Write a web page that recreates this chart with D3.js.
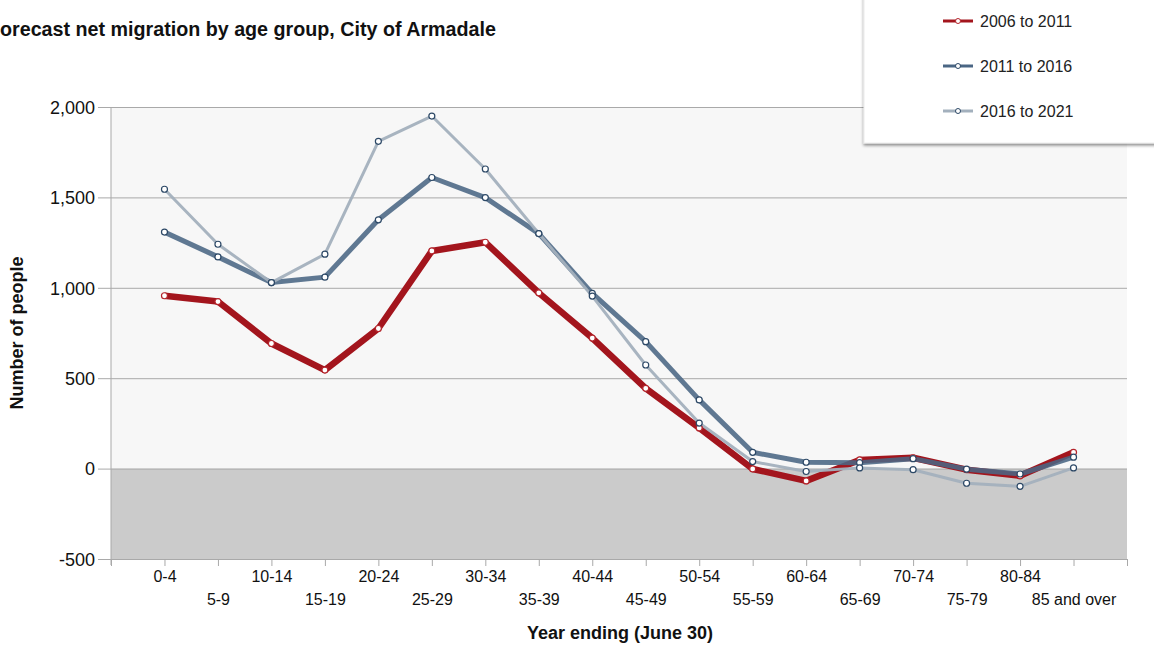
<!doctype html>
<html lang="en">

<head>
    <meta charset="utf-8">
    <title>Forecast net migration by age group</title>
    <script src="https://cdn.jsdelivr.net/npm/d3@7"></script>
    <style>
        body {
            margin: 0;
            background: #ffffff;
            font-family: "Liberation Sans", Arial, sans-serif;
        }

        svg {
            display: block;
        }
    </style>
</head>

<body>
    <svg></svg>
    <script>
        var width = 1154;
        var height = 648;

        var ageGroups = ['0-4', '5-9', '10-14', '15-19', '20-24', '25-29', '30-34', '35-39', '40-44',
            '45-49', '50-54', '55-59', '60-64', '65-69', '70-74', '75-79', '80-84', '85 and over'];
        var s2006 = [956, 924, 692, 545, 775, 1204, 1252, 972, 722, 444, 225, -2, -68, 48, 60, -6, -40, 90];
        var s2011 = [1308, 1171, 1029, 1059, 1376, 1610, 1499, 1300, 969, 702, 380, 90, 35, 33, 55, -3, -30, 63];
        var s2016 = [1545, 1241, 1029, 1186, 1810, 1950, 1657, 1300, 954, 573, 252, 39, -16, 4, -6, -81, -98, 4];
        var seriesNames = ['2006 to 2011', '2011 to 2016', '2016 to 2021'];
        var yTicks = [-500, 0, 500, 1000, 1500, 2000];

        var series = [
            { name: seriesNames[0], values: s2006, color: '#a3151d', width: 6.5, dot: '#b4242b', opacity: 1 },
            { name: seriesNames[1], values: s2011, color: '#4a6684', width: 5, dot: '#2c4866', opacity: 0.88 },
            { name: seriesNames[2], values: s2016, color: '#a3b0bd', width: 3, dot: '#2c4866', opacity: 0.95 }
        ];

        var pLeft = 111, pRight = 1127, pTop = 107, pBottom = 559;

        // slots include an empty one on each side of the categories
        var slots = ['_s'].concat(ageGroups).concat(['_e']);
        var xScale = d3.scalePoint().domain(slots).range([pLeft, pRight]);
        var yScale = d3.scaleLinear().domain([-500, 2000]).range([pBottom, pTop]);

        var svg = d3.select('svg').attr('width', width).attr('height', height);

        // backgrounds
        svg.append('rect')
            .attr('x', pLeft).attr('y', pTop)
            .attr('width', pRight - pLeft).attr('height', yScale(0) - pTop)
            .attr('fill', '#f7f7f7');
        svg.append('rect')
            .attr('x', pLeft).attr('y', yScale(0))
            .attr('width', pRight - pLeft).attr('height', pBottom - yScale(0))
            .attr('fill', '#cbcbcb');

        // y grid + axis
        var fmt = d3.format(',');
        var yAxis = d3.axisLeft(yScale).tickValues(yTicks).tickSize(pRight - pLeft + 13)
            .tickFormat(function (d) { return fmt(d).replace('\u2212', '-'); });
        var gy = svg.append('g').attr('transform', 'translate(' + pRight + ',0)').call(yAxis);
        gy.select('.domain').remove();
        gy.selectAll('line').attr('stroke', '#a9a9a9').attr('stroke-width', 1);
        gy.selectAll('text')
            .attr('x', -(pRight - pLeft) - 16)
            .attr('dy', '0.35em')
            .attr('fill', '#111')
            .style('font-size', '18px')
            .style('font-family', '"Liberation Sans", Arial, sans-serif');

        svg.append('line')
            .attr('x1', pLeft).attr('x2', pLeft)
            .attr('y1', pTop).attr('y2', pBottom + 6)
            .attr('stroke', '#a9a9a9');

        // x axis
        var xAxis = d3.axisBottom(xScale).tickSize(7).tickFormat(function (d) {
            return d.charAt(0) === '_' ? '' : d;
        });
        var gx = svg.append('g').attr('transform', 'translate(0,' + pBottom + ')').call(xAxis);
        gx.select('.domain').attr('d', 'M' + (pLeft - 13) + ',0.5H' + pRight).attr('stroke', '#a9a9a9');
        gx.selectAll('line').attr('stroke', '#a9a9a9');
        gx.selectAll('text')
            .attr('y', function (d) {
                return ageGroups.indexOf(d) % 2 === 0 ? 12 : 35;
            })
            .attr('fill', '#111')
            .style('font-size', '16px')
            .style('font-family', '"Liberation Sans", Arial, sans-serif');

        // lines
        var line = d3.line()
            .x(function (d, i) { return xScale(ageGroups[i]); })
            .y(function (d) { return yScale(d); });

        series.forEach(function (s) {
            svg.append('path')
                .datum(s.values)
                .attr('d', line)
                .attr('fill', 'none')
                .attr('stroke', s.color)
                .attr('stroke-width', s.width)
                .attr('stroke-linejoin', 'round')
                .attr('stroke-opacity', s.opacity);
        });
        series.forEach(function (s) {
            svg.append('g').selectAll('circle')
                .data(s.values)
                .enter()
                .append('circle')
                .attr('cx', function (d, i) { return xScale(ageGroups[i]); })
                .attr('cy', function (d) { return yScale(d); })
                .attr('r', 3)
                .attr('fill', '#fff')
                .attr('stroke', s.dot)
                .attr('stroke-width', 1.2);
        });

        // titles (the chart's own title is clipped at the left edge)
        svg.append('text')
            .attr('x', -12).attr('y', 36)
            .attr('font-weight', 'bold')
            .style('font-size', '19.7px')
            .attr('fill', '#111')
            .text('Forecast net migration by age group, City of Armadale');

        svg.append('text')
            .attr('transform', 'translate(23,' + ((pTop + pBottom) / 2) + ') rotate(-90)')
            .attr('text-anchor', 'middle')
            .attr('font-weight', 'bold')
            .style('font-size', '18px')
            .attr('fill', '#111')
            .text('Number of people');

        svg.append('text')
            .attr('x', (pLeft + pRight) / 2 + 1).attr('y', 639)
            .attr('text-anchor', 'middle')
            .attr('font-weight', 'bold')
            .style('font-size', '18px')
            .attr('fill', '#111')
            .text('Year ending (June 30)');

        // legend box
        var defs = svg.append('defs');
        var filt = defs.append('filter').attr('id', 'shadow')
            .attr('x', '-10%').attr('y', '-10%').attr('width', '120%').attr('height', '130%');
        filt.append('feDropShadow')
            .attr('dx', 0).attr('dy', 2).attr('stdDeviation', 1.5)
            .attr('flood-color', '#000').attr('flood-opacity', 0.45);

        var legend = svg.append('g');
        legend.append('rect')
            .attr('x', 864).attr('y', -10)
            .attr('width', 310).attr('height', 153)
            .attr('fill', '#fff')
            .attr('stroke', '#ececec')
            .attr('filter', 'url(#shadow)');

        var items = legend.selectAll('g.item')
            .data(series)
            .enter()
            .append('g')
            .attr('class', 'item')
            .attr('transform', function (d, i) { return 'translate(943,' + (21 + i * 45) + ')'; });
        items.append('line')
            .attr('x1', 0).attr('x2', 30)
            .attr('stroke', function (d) { return d.color; })
            .attr('stroke-width', 3);
        items.append('circle')
            .attr('cx', 15).attr('r', 2.5)
            .attr('fill', '#fff')
            .attr('stroke', function (d) { return d.dot; })
            .attr('stroke-width', 1);
        items.append('text')
            .attr('x', 37).attr('dy', '0.35em')
            .style('font-size', '16px')
            .attr('fill', '#222')
            .text(function (d) { return d.name; });
    </script>

</body>

</html>
